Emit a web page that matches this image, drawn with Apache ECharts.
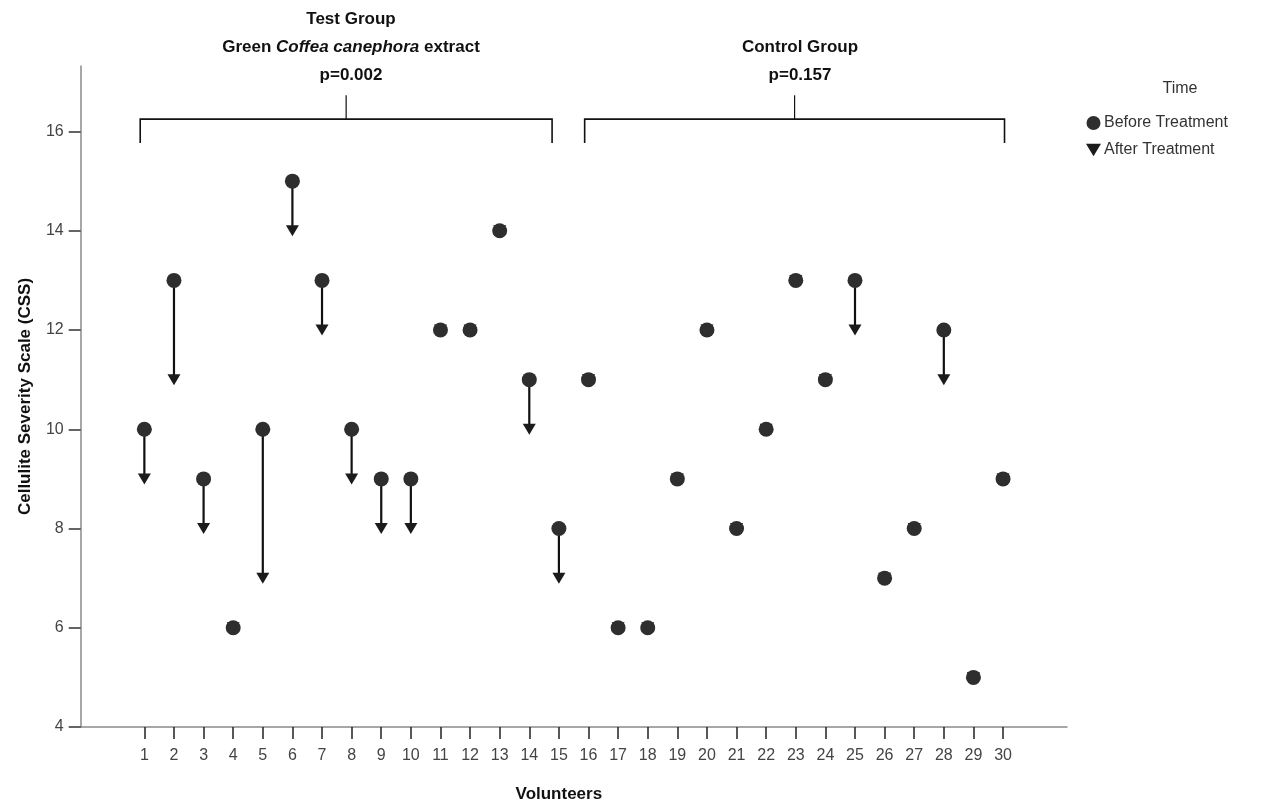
<!DOCTYPE html>
<html>
<head>
<meta charset="utf-8">
<script src="https://cdn.jsdelivr.net/npm/echarts@6/dist/echarts.min.js"></script>
<style>
html,body{margin:0;padding:0;background:#fff;}
#main{width:1265px;height:808px;}
</style>
</head>
<body>
<div id="main"></div>
<script>
// ---- data ----
var volunteers = [1,2,3,4,5,6,7,8,9,10,11,12,13,14,15,16,17,18,19,20,21,22,23,24,25,26,27,28,29,30];
var beforeTreatment = [10,13,9,6,10,15,13,10,9,9,12,12,14,11,8,11,6,6,9,12,8,10,13,11,13,7,8,12,5,9];
var afterTreatment  = [9,11,8,6,7,14,12,9,8,8,12,12,14,10,7,11,6,6,9,12,8,10,13,11,12,7,8,11,5,9];
var yTicks = [4,6,8,10,12,14,16];
// group brackets: [from volunteer position, to volunteer position]
var groupTest = [0.86, 14.77];
var groupControl = [15.87, 30.05];
var bracketLevels = {top: 16.25, leg: 15.77, stem: 16.73};

var triPath = 'path://M0,0L12,0L6,10Z';

var beforeData = volunteers.map(function(v,i){return [v, beforeTreatment[i]];});
var afterData = volunteers.map(function(v,i){return [v, afterTreatment[i]];});
var arrowData = [];
volunteers.forEach(function(v,i){
  if (beforeTreatment[i] !== afterTreatment[i]) arrowData.push([v, beforeTreatment[i], afterTreatment[i]]);
});

var chart = echarts.init(document.getElementById('main'));
var font = '"Liberation Sans", Arial, sans-serif';

var option = {
  backgroundColor: '#fff',
  animation: false,
  textStyle: {fontFamily: font},
  title: [
    {
      left: 346, top: 0, textAlign: 'center',
      text: '{b|Test Group}\n{b|Green }{bi|Coffea canephora}{b| extract}\n{b|p=0.002}',
      textStyle: {
        fontFamily: font,
        rich: {
          b: {fontFamily: font, fontSize: 17, fontWeight: 'bold', color: '#111', lineHeight: 28},
          bi: {fontFamily: font, fontSize: 17, fontWeight: 'bold', fontStyle: 'italic', color: '#111', lineHeight: 28}
        }
      }
    },
    {
      left: 795, top: 28, textAlign: 'center',
      text: '{b|Control Group}\n{b|p=0.157}',
      textStyle: {
        fontFamily: font,
        rich: {
          b: {fontFamily: font, fontSize: 17, fontWeight: 'bold', color: '#111', lineHeight: 28}
        }
      }
    },
    {
      left: 1175, top: 76, textAlign: 'center',
      text: 'Time',
      textStyle: {fontFamily: font, fontSize: 16, fontWeight: 'normal', color: '#333'}
    }
  ],
  legend: {
    orient: 'vertical',
    left: 1081, top: 110,
    itemWidth: 15, itemHeight: 14, itemGap: 11,
    textStyle: {fontFamily: font, fontSize: 16, color: '#333', padding: [0,0,0,-2]},
    data: [
      {name: 'Before Treatment', icon: 'circle'},
      {name: 'After Treatment', icon: triPath}
    ]
  },
  grid: {left: 80.7, right: 198, top: 66, bottom: 78, containLabel: false},
  xAxis: {
    type: 'value',
    min: -1.15, max: 32.16,
    name: 'Volunteers',
    nameLocation: 'middle',
    nameGap: 59,
    nameTextStyle: {fontFamily: font, fontSize: 17, fontWeight: 'bold', color: '#111', padding: [0, 30, 0, 0]},
    splitLine: {show: false},
    axisLine: {show: true, onZero: false, lineStyle: {color: '#8a8a8a', width: 1.5}},
    axisTick: {show: true, customValues: volunteers, length: 12, lineStyle: {color: '#222', width: 1.5}},
    axisLabel: {customValues: volunteers, margin: 21, fontFamily: font, fontSize: 16, color: '#444'}
  },
  yAxis: {
    type: 'value',
    min: 4, max: 17.32,
    name: 'Cellulite Severity Scale (CSS)',
    nameLocation: 'middle',
    nameGap: 47,
    nameTextStyle: {fontFamily: font, fontSize: 17, fontWeight: 'bold', color: '#111'},
    splitLine: {show: false},
    axisLine: {show: true, onZero: false, lineStyle: {color: '#8a8a8a', width: 1.5}},
    axisTick: {show: true, customValues: yTicks, length: 12, lineStyle: {color: '#333', width: 1.5}},
    axisLabel: {customValues: yTicks, margin: 17, fontFamily: font, fontSize: 16, color: '#444'}
  },
  series: [
    {
      type: 'custom',
      name: 'brackets',
      silent: true,
      z: 1,
      data: [groupTest, groupControl],
      renderItem: function(params, api){
        var a = api.value(0), b = api.value(1);
        var m = (a + b) / 2;
        var p1 = api.coord([a, bracketLevels.leg]);
        var p2 = api.coord([a, bracketLevels.top]);
        var p3 = api.coord([b, bracketLevels.top]);
        var p4 = api.coord([b, bracketLevels.leg]);
        var s1 = api.coord([m, bracketLevels.top]);
        var s2 = api.coord([m, bracketLevels.stem]);
        return {
          type: 'group',
          children: [
            {type: 'polyline', shape: {points: [p1,p2,p3,p4]}, style: {stroke: '#111', lineWidth: 1.6, fill: null}},
            {type: 'line', shape: {x1: s1[0], y1: s1[1], x2: s2[0], y2: s2[1]}, style: {stroke: '#111', lineWidth: 1.2}}
          ]
        };
      }
    },
    {
      type: 'custom',
      name: 'arrows',
      silent: true,
      z: 2,
      data: arrowData,
      renderItem: function(params, api){
        var p1 = api.coord([api.value(0), api.value(1)]);
        var p2 = api.coord([api.value(0), api.value(2)]);
        return {
          type: 'line',
          shape: {x1: p1[0], y1: p1[1], x2: p2[0], y2: p2[1]},
          style: {stroke: '#111', lineWidth: 2.2}
        };
      }
    },
    {
      type: 'scatter',
      name: 'After Treatment',
      z: 3,
      symbol: triPath,
      symbolSize: [13, 11],
      itemStyle: {color: '#1b1b1b', opacity: 1},
      data: afterData
    },
    {
      type: 'scatter',
      name: 'Before Treatment',
      z: 4,
      symbol: 'circle',
      symbolSize: 15,
      itemStyle: {color: '#2e2e2e', opacity: 1},
      data: beforeData
    }
  ]
};
chart.setOption(option);
</script>
</body>
</html>
